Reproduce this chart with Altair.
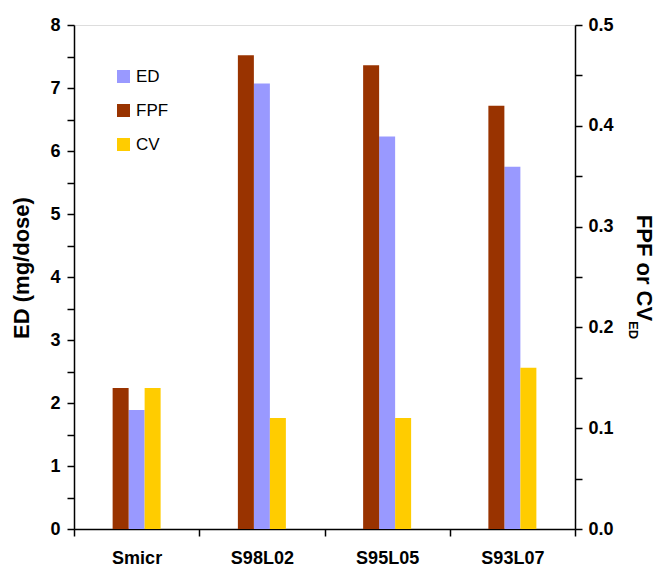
import altair as alt
import pandas as pd

categories = ["Smicr", "S98L02", "S95L05", "S93L07"]
ed = [1.89, 7.07, 6.23, 5.75]
fpf = [0.14, 0.47, 0.46, 0.42]
cv = [0.14, 0.11, 0.11, 0.16]
series_order = ["FPF", "ED", "CV"]
legend_order = ["ED", "FPF", "CV"]
colors = ["#9999FF", "#993300", "#FFCC00"]
left_ticks = [i * 0.5 for i in range(17)]
right_ticks = [round(i * 0.05, 2) for i in range(11)]

ed_df = pd.DataFrame({"cat": categories, "series": ["ED"] * 4, "value": ed})
r_df = pd.DataFrame({"cat": categories * 2, "series": ["FPF"] * 4 + ["CV"] * 4,
                     "value": fpf + cv})

W, H = 501, 504
FONT = "Liberation Sans"
step = W / len(categories)
group_w = 48

x_enc = alt.X("cat:N", sort=categories,
              scale=alt.Scale(domain=categories, paddingInner=0, paddingOuter=0),
              axis=alt.Axis(title=None, tickBand="extent", labelAngle=0,
                            labelFont=FONT, labelFontSize=18, labelFontWeight="bold",
                            labelColor="black", labelPadding=13,
                            tickColor="black", tickWidth=1.5, tickSize=7,
                            domainColor="black", domainWidth=1.5))
xoff = alt.XOffset("series:N",
                   scale=alt.Scale(domain=series_order, paddingInner=0, paddingOuter=0,
                                   range=[(step - group_w) / 2, (step + group_w) / 2]))
color = alt.Color("series:N",
                  scale=alt.Scale(domain=legend_order, range=colors),
                  legend=alt.Legend(title=None, orient="none", legendX=41, legendY=43,
                                    padding=0, symbolType="square", symbolSize=169,
                                    symbolStrokeWidth=0, symbolOpacity=1,
                                    labelFont=FONT, labelFontSize=17, labelColor="black",
                                    labelOffset=4, rowPadding=16))

ed_bars = alt.Chart(ed_df).mark_bar(opacity=1).encode(
    x=x_enc,
    xOffset=xoff,
    y=alt.Y("value:Q", scale=alt.Scale(domain=[0, 8], nice=False),
            axis=alt.Axis(orient="left", title=None, values=left_ticks, grid=False,
                          labelExpr="datum.value % 1 == 0 ? format(datum.value, 'd') : ''",
                          labelFont=FONT, labelFontSize=18, labelFontWeight="bold",
                          labelColor="black", labelPadding=7,
                          tickColor="black", tickWidth=1.5, tickSize=7,
                          domainColor="black", domainWidth=1.5)),
    color=color,
)

r_bars = alt.Chart(r_df).mark_bar(opacity=1).encode(
    x=x_enc,
    xOffset=xoff,
    y=alt.Y("value:Q", scale=alt.Scale(domain=[0, 0.5], nice=False),
            axis=alt.Axis(orient="right", title=None, values=right_ticks, grid=False,
                          labelExpr="round(datum.value * 100) % 10 == 0 ? format(datum.value, '.1f') : ''",
                          labelFont=FONT, labelFontSize=18, labelFontWeight="bold",
                          labelColor="black", labelPadding=6,
                          tickColor="black", tickWidth=1.5, tickSize=7,
                          domainColor="black", domainWidth=1.5)),
    color=color,
)

one = alt.Data(values=[{"k": 1}])
left_title = alt.Chart(one).mark_text(
    text="ED (mg/dose)", angle=270, align="center", baseline="alphabetic",
    font=FONT, fontSize=22, fontWeight="bold", color="black"
).encode(x=alt.value(-45), y=alt.value(243))

right_title = alt.Chart(one).mark_text(
    text="FPF or CV", angle=90, align="center", baseline="alphabetic",
    font=FONT, fontSize=22, fontWeight="bold", color="black"
).encode(x=alt.value(563), y=alt.value(243))

right_sub = alt.Chart(one).mark_text(
    text="ED", angle=90, align="center", baseline="alphabetic",
    font=FONT, fontSize=13, fontWeight="bold", color="black"
).encode(x=alt.value(555), y=alt.value(305))

chart = alt.layer(ed_bars, r_bars, left_title, right_title, right_sub).resolve_scale(
    y="independent"
).properties(
    width=W, height=H,
    autosize=alt.AutoSizeParams(type="none"),
    padding={"left": 74, "top": 25, "right": 81, "bottom": 37},
).configure_view(stroke="black", strokeWidth=1.5).configure(background="white")

chart.save("out.html", embed_options={"renderer": "svg", "actions": False})
